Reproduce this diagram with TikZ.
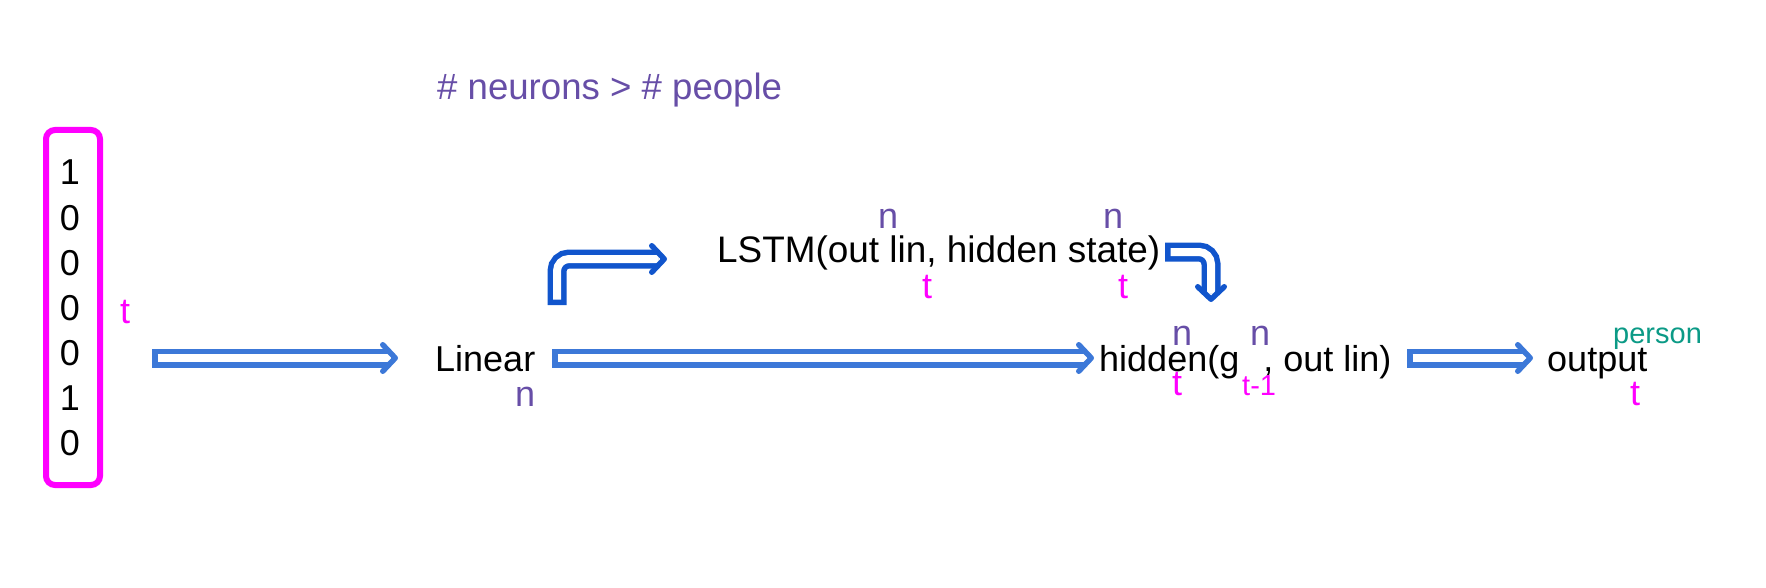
\documentclass[tikz,border=0pt]{standalone}
\usepackage{fontspec}
\setmainfont{Liberation Sans}
\definecolor{hblue}{HTML}{3C78D8}
\definecolor{dblue}{HTML}{1155CC}
\definecolor{purp}{HTML}{674EA7}
\definecolor{mag}{HTML}{FF00FF}
\definecolor{tealc}{HTML}{0B9A86}
\begin{document}
\begin{tikzpicture}[x=1pt,y=-1pt,
  txt/.style={inner sep=0pt, anchor=base west, font=\fontsize{36}{45}\selectfont},
  small/.style={inner sep=0pt, anchor=base west, font=\fontsize{29}{34}\selectfont},
  shaftout/.style={line width=19pt, line cap=butt, rounded corners=12pt},
  shaftin/.style={draw=white, line width=8pt, line cap=butt, rounded corners=12pt, shorten <=5.5pt},
  ahead/.pic={\draw[line width=5.5pt, line join=round, line cap=round]
      (-15.25,-13.25) -- (-2.75,0) -- (-15.25,13.25);},
  vecbox/.style={draw=mag, line width=6pt, rounded corners=9pt, minimum width=54pt, minimum height=355pt, inner sep=0pt}
]
\useasboundingbox (0,0) rectangle (1766,588);
% input vector
\node[vecbox] (vec) at (73,307.5) {};
\foreach \d [count=\i from 0] in {1,0,0,0,0,1,0}
  \node[txt, anchor=base] (d\i) at (70,{185+45*\i}) {\d};
\node[txt, text=mag] (tv) at (120,323) {t};
% heading
\node[txt, text=purp, font=\fontsize{36.6}{45}\selectfont] (head) at (437,100) {\# neurons > \# people};
% Linear
\node[txt] (lin) at (435,371) {Linear};
\node[txt, text=purp] (linn) at (515,406) {n};
% LSTM
\node[txt, font=\fontsize{36.9}{45}\selectfont] (lstm) at (717,262) {LSTM(out lin, hidden state)};
\node[txt, text=purp] (ln1) at (878,228) {n};
\node[txt, text=purp] (ln2) at (1103,228) {n};
\node[txt, text=mag] (lt1) at (922,298) {t};
\node[txt, text=mag] (lt2) at (1118,298) {t};
% hidden
\node[txt] (hid) at (1099,371) {hidden(g\hspace{24pt}, out lin)};
\node[txt, text=purp] (hn1) at (1172,345) {n};
\node[txt, text=purp] (hn2) at (1250,345) {n};
\node[txt, text=mag] (ht1) at (1172,395) {t};
\node[small, text=mag] (ht2) at (1242,395) {t-1};
% output
\node[txt] (out) at (1547,371) {output};
\node[small, text=tealc] (per) at (1613,343) {person};
\node[txt, text=mag] (ot) at (1630,405) {t};
% arrow endpoints: tail, shaft end, tip
\coordinate (a1s) at (152,358);  \coordinate (a1m) at (389,358);  \coordinate (a1e) at (398,358);
\coordinate (a2s) at (552,358);  \coordinate (a2m) at (1085,358); \coordinate (a2e) at (1094,358);
\coordinate (a3s) at (1407,358); \coordinate (a3m) at (1524,358); \coordinate (a3e) at (1533,358);
\coordinate (b1s) at (557,305);  \coordinate (b1m) at (658,259);  \coordinate (b1e) at (667,259);
\coordinate (b2s) at (1165,252); \coordinate (b2m) at (1211,293); \coordinate (b2e) at (1211,302);
% straight arrows
\foreach \a in {a1,a2,a3}{
  \draw[shaftout, hblue] (\a s) -- (\a m);
  \draw[shaftin] (\a s) -- (\a m);
  \pic[hblue] at (\a e) {ahead};
}
% bent arrows
\draw[shaftout, dblue] (b1s) |- (b1m);
\draw[shaftin] (b1s) |- (b1m);
\pic[dblue] at (b1e) {ahead};
\draw[shaftout, dblue] (b2s) -| (b2m);
\draw[shaftin] (b2s) -| (b2m);
\pic[dblue, rotate=-90] at (b2e) {ahead};
\end{tikzpicture}
\end{document}
